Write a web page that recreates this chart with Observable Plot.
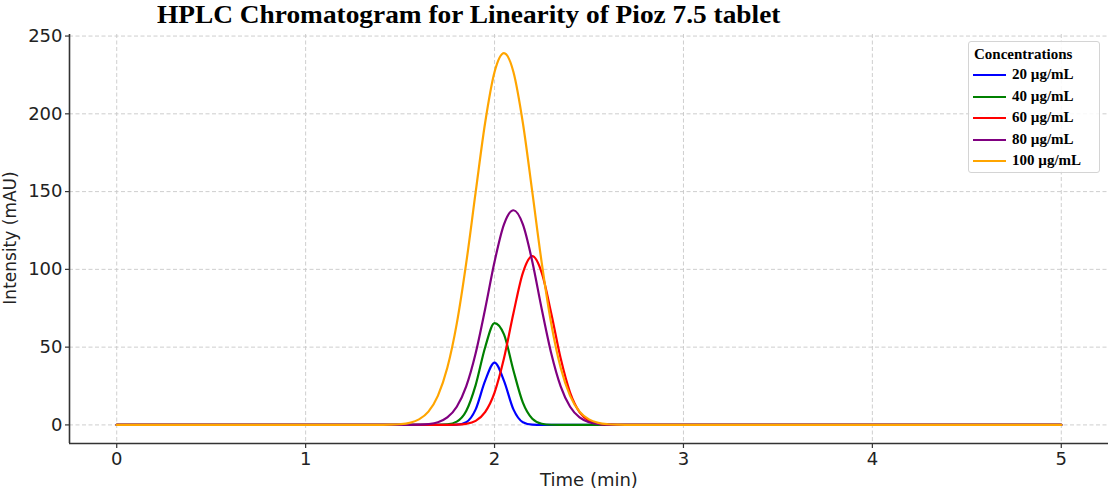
<!DOCTYPE html>
<html>
<head>
<meta charset="utf-8">
<script src="https://cdn.jsdelivr.net/npm/d3@7"></script>
<script src="https://cdn.jsdelivr.net/npm/@observablehq/plot@0.6"></script>
<style>
html, body { margin: 0; padding: 0; background: #fff; }
#wrap { position: relative; width: 1111px; height: 495px; overflow: hidden; }
#title { position: absolute; left: 157px; top: 2px; white-space: nowrap; font-family: "Liberation Serif", serif; font-weight: bold; font-size: 26px; line-height: 25px; color: #000; transform: scaleX(1.052); transform-origin: 0 50%; }
.axlabel { position: absolute; font-family: "DejaVu Sans", sans-serif; color: #222; white-space: nowrap; }
#xlabel { left: 589px; top: 479px; transform: translate(-50%, -50%); font-size: 18px; }
#ylabel { left: 10px; top: 238px; transform: translate(-50%, -50%) rotate(-90deg); font-size: 17px; }
#legend { position: absolute; left: 968px; top: 41px; width: 130px; height: 130px; border: 1px solid #d4d4d4; border-radius: 3px; background: rgba(255,255,255,0.85); font-family: "Liberation Serif", serif; font-weight: bold; font-size: 15px; color: #000; }
#legend .ltitle { position: absolute; left: 5px; top: 4px; }
#legend .row { position: absolute; left: 4px; height: 16px; width: 124px; }
#legend .swatch { position: absolute; left: 0; top: 7px; width: 33px; height: 2px; }
#legend .txt { position: absolute; left: 39px; top: -1px; white-space: nowrap; }
</style>
</head>
<body>
<div id="wrap">
  <div id="chart"></div>
  <div id="title">HPLC Chromatogram for Linearity of Pioz 7.5 tablet</div>
  <div id="xlabel" class="axlabel">Time (min)</div>
  <div id="ylabel" class="axlabel">Intensity (mAU)</div>
  <div id="legend"></div>
</div>
<script>
// ---- data ----
const times = [0, 1.30, 1.35, 1.40, 1.45, 1.50, 1.55, 1.60, 1.65, 1.70, 1.75, 1.80, 1.85, 1.90, 1.95, 2.00, 2.05, 2.10, 2.15, 2.20, 2.25, 2.30, 2.35, 2.40, 2.45, 2.50, 2.55, 2.60, 2.65, 2.70, 2.75, 2.80, 2.85, 2.90, 5];

const conc20  = [0,0,0,0,0,0,0,0,0,0,0, 0.15,1.76,9.98,28.3,40,28.3,9.98,1.76,0.15, 0,0,0,0,0,0,0,0,0,0,0,0,0,0,0];
const conc40  = [0,0,0,0,0,0,0,0,0, 0.04,0.34,2.10,8.93,25.6,49.8,65.5,58.2,35.0,14.3,3.93,0.73,0.09,0.01, 0,0,0,0,0,0,0,0,0,0,0,0];
const conc60  = [0,0,0,0,0,0,0,0,0,0, 0.03,0.15,0.69,2.63,8.20,20.8,42.8,71.8,97.8,108.5,97.8,71.8,42.8,20.8,8.20,2.63,0.69,0.15,0.03, 0,0,0,0,0,0];
const conc80  = [0,0,0,0,0,0, 0.03,0.15,0.53,1.71,4.79,11.7,24.8,46.1,74.4,104.9,128.9,138,128.9,104.9,74.4,46.1,24.8,11.7,4.79,1.71,0.53,0.15,0.03, 0,0,0,0,0,0];
const conc100 = [0,0,0, 0.04,0.13,0.44,1.31,3.53,8.55,18.7,36.7,65.1,104.0,149.6,194.1,226.9,239,226.9,194.1,149.6,104.0,65.1,36.7,18.7,8.55,3.53,1.31,0.44,0.13,0.04,0.01, 0,0,0,0];

const seriesLabels = ["20 µg/mL", "40 µg/mL", "60 µg/mL", "80 µg/mL", "100 µg/mL"];
const seriesValues = [conc20, conc40, conc60, conc80, conc100];
const seriesColors = ["#0000ff", "#008000", "#ff0000", "#800080", "#ffa500"];

const xTicks = [0, 1, 2, 3, 4, 5];
const yTicks = [0, 50, 100, 150, 200, 250];
const xDomain = [-0.25, 5.25];
const yDomain = [-11.95, 251];

// long table built from the arrays
const rows = seriesLabels.flatMap((s, i) => times.map((t, j) => ({time: t, value: seriesValues[i][j], series: s})));

const axisColor = "#333";
const chart = Plot.plot({
  width: 1111,
  height: 495,
  marginLeft: 69,
  marginRight: 3,
  marginTop: 34,
  marginBottom: 52,
  style: {fontFamily: "DejaVu Sans, sans-serif", fontSize: "18px", color: "#222", background: "transparent"},
  x: {domain: xDomain},
  y: {domain: yDomain},
  color: {domain: seriesLabels, range: seriesColors},
  marks: [
    Plot.gridX(xTicks, {stroke: "#c8c8c8", strokeOpacity: 1, strokeWidth: 0.9, strokeDasharray: "4,2.5"}),
    Plot.gridY(yTicks, {stroke: "#c8c8c8", strokeOpacity: 1, strokeWidth: 0.9, strokeDasharray: "4,2.5"}),
    Plot.lineY(rows, {x: "time", y: "value", z: "series", stroke: "series", strokeWidth: 2.2, curve: "monotone-x"}),
    Plot.ruleX([xDomain[0]], {stroke: axisColor, strokeWidth: 1.6}),
    Plot.ruleY([yDomain[0]], {stroke: axisColor, strokeWidth: 1.6}),
    Plot.axisX(xTicks, {label: null, tickSize: 5, tickPadding: 4, tickFormat: d3.format("d"), stroke: axisColor, strokeWidth: 1.2, fill: "#222", fontSize: 18}),
    Plot.axisY(yTicks, {label: null, tickSize: 4, tickPadding: 3, tickFormat: d3.format("d"), stroke: axisColor, strokeWidth: 1.2, fill: "#222", fontSize: 18})
  ]
});
document.getElementById("chart").appendChild(chart);

// legend
const legend = document.getElementById("legend");
const lt = document.createElement("div");
lt.className = "ltitle";
lt.textContent = "Concentrations";
legend.appendChild(lt);
seriesLabels.forEach((s, i) => {
  const r = document.createElement("div");
  r.className = "row";
  r.style.top = (25 + i * 21.6) + "px";
  const sw = document.createElement("div");
  sw.className = "swatch";
  sw.style.background = seriesColors[i];
  const tx = document.createElement("div");
  tx.className = "txt";
  tx.textContent = s;
  r.appendChild(sw);
  r.appendChild(tx);
  legend.appendChild(r);
});
</script>
</body>
</html>
